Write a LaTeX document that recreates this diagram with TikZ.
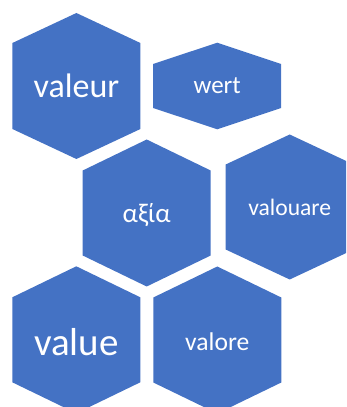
\documentclass[tikz,border=0pt]{standalone}
\usepackage{fontspec}
\setmainfont{Carlito}
\definecolor{hexblue}{RGB}{68,114,196}
\tikzset{
  hexfill/.style={fill=hexblue, draw=none},
  hextext/.style={text=white, inner sep=0pt, anchor=center}
}
\usetikzlibrary{calc}
% \hexagonshape{name}{cx}{cy}{half width}{half vertical edge}{rise}
\newcommand{\hexagonshape}[6]{%
  \coordinate (#1) at (#2,#3);
  \fill[hexfill] ($(#1)+(0,#5+#6)$) -- ($(#1)+(#4,#5)$) -- ($(#1)+(#4,-#5)$)
    -- ($(#1)+(0,-#5-#6)$) -- ($(#1)+(-#4,-#5)$) -- ($(#1)+(-#4,#5)$) -- cycle;
}
\begin{document}
\begin{tikzpicture}[x=1pt,y=1pt]
\useasboundingbox (0,0) rectangle (346,407);
\begin{scope}
\clip (0,0) rectangle (346,407);
\hexagonshape{h1}{76.4}{321}{64}{43}{30}
\hexagonshape{h2}{217.2}{321}{64}{22}{21.3}
\hexagonshape{h3}{146.7}{194}{64}{42.5}{31}
\hexagonshape{h4}{289.7}{200}{64}{42.5}{30}
\hexagonshape{h5}{76.3}{67.2}{64}{42.5}{31}
\hexagonshape{h6}{217.3}{67}{64}{42.5}{31}
\end{scope}
\node[hextext, font=\fontsize{34}{34}\selectfont] (t1) at (h1) {valeur};
\node[hextext, font=\fontsize{25}{25}\selectfont] (t2) at (h2) {wert};
\node[hextext, font=\fontsize{27}{27}\selectfont] (t3) at ($(h3)+(0,-2)$) {αξία};
\node[hextext, font=\fontsize{23.6}{23.6}\selectfont] (t4) at (h4) {valouare};
\node[hextext, font=\fontsize{39}{39}\selectfont] (t5) at ($(h5)+(0,-2)$) {value};
\node[hextext, font=\fontsize{25.6}{25.6}\selectfont] (t6) at ($(h6)+(0,-2)$) {valore};
\end{tikzpicture}
\end{document}
